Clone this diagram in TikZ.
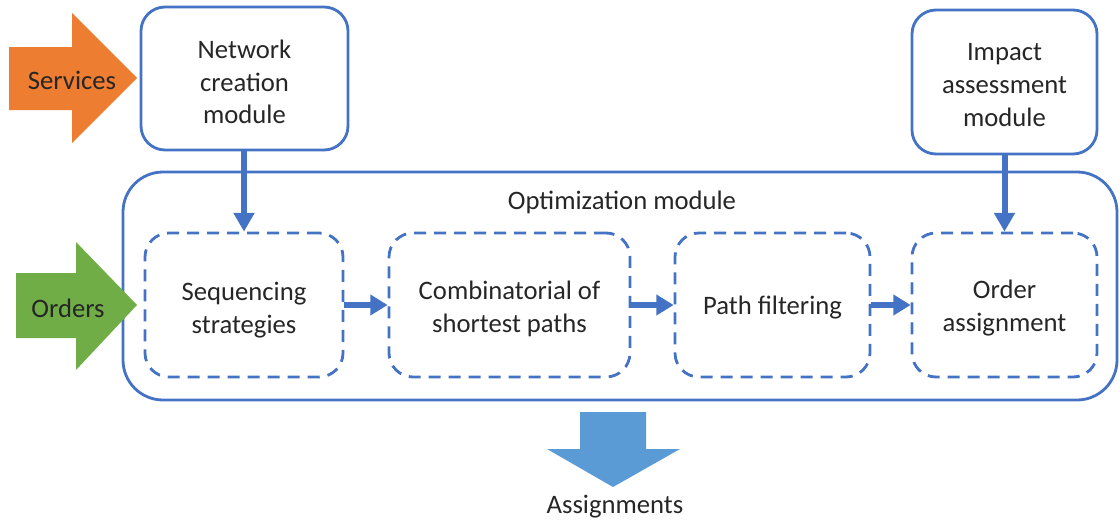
\documentclass[tikz,border=0pt]{standalone}
\usepackage{fontspec}
\setmainfont{Carlito}
\usetikzlibrary{arrows.meta}
\definecolor{lineblue}{HTML}{4472C4}
\definecolor{svcorange}{HTML}{ED7D31}
\definecolor{ordgreen}{HTML}{70AD47}
\definecolor{outblue}{HTML}{5B9BD5}
\tikzset{
  lbl/.style={font=\fontsize{20}{24.5}\selectfont, align=center, text=black!85},
  module/.style={draw=lineblue, line width=2.1pt, rounded corners=18pt, fill=white,
    inner sep=0pt},
  stage/.style={draw=lineblue, line width=2.1pt, rounded corners=18pt,
    dash pattern=on 9pt off 6pt, inner sep=0pt},
  feed/.style={draw=lineblue, line width=4.5pt,
    -{Triangle[length=14pt,width=15pt]}},
  link/.style={draw=lineblue, line width=4.5pt,
    -{Triangle[length=13pt,width=15pt]}}
}
\begin{document}
\begin{tikzpicture}[x=0.75pt,y=-0.75pt]
  \useasboundingbox (0,0) rectangle (1120,521);

  % outer optimization module frame
  \node[draw=lineblue, line width=2.1pt, rounded corners=30pt, inner sep=0pt,
        minimum width=994*0.75pt, minimum height=228*0.75pt] (opt) at (620,286) {};
  \node[lbl] (optlbl) at (622,202) {Optimization module};

  % external modules
  \node[module, minimum width=207*0.75pt, minimum height=143*0.75pt] (net) at (244.5,78.5) {};
  \node[lbl] (netlbl) at (244.5,82) {Network\\creation\\module};
  \node[module, minimum width=185*0.75pt, minimum height=144*0.75pt] (imp) at (1004.5,82) {};
  \node[lbl] (implbl) at (1004.5,85) {Impact\\assessment\\module};

  % optimization stages
  \node[stage, minimum width=198*0.75pt, minimum height=144*0.75pt] (seq) at (244,305) {};
  \node[lbl] (seqlbl) at (244,310) {Sequencing\\strategies};
  \node[stage, minimum width=241*0.75pt, minimum height=144*0.75pt] (comb) at (509.5,305) {};
  \node[lbl] (comblbl) at (509.5,309) {Combinatorial of\\shortest paths};
  \node[stage, minimum width=195*0.75pt, minimum height=144*0.75pt] (path) at (772.5,305) {};
  \node[lbl] (pathlbl) at (772.5,308) {Path filtering};
  \node[stage, minimum width=185*0.75pt, minimum height=144*0.75pt] (ord) at (1004.5,305) {};
  \node[lbl] (ordlbl) at (1004.5,308) {Order\\assignment};

  % connectors
  \draw[feed] (net.south -| seq.north) -- (seq.north);
  \draw[feed] (imp.south) -- (ord.north);
  \draw[link] (seq.east) -- (comb.west);
  \draw[link] (comb.east) -- (path.west);
  \draw[link] (path.east) -- (ord.west);

  % input and output block arrows
  \fill[svcorange] (9,47) -- (72,47) -- (72,13) -- (137,78) -- (72,143) -- (72,110) -- (9,110) -- cycle;
  \node[lbl] (svc) at (72,80) {Services};

  \fill[ordgreen] (16,273) -- (76,273) -- (76,242) -- (137,305) -- (76,370) -- (76,338) -- (16,338) -- cycle;
  \node[lbl] (orders) at (68,308) {Orders};

  \fill[outblue] (580,412) -- (646,412) -- (646,449) -- (680,449) -- (613,487) -- (547,449) -- (580,449) -- cycle;
  \node[lbl] (assign) at (615,507) {Assignments};
\end{tikzpicture}
\end{document}
